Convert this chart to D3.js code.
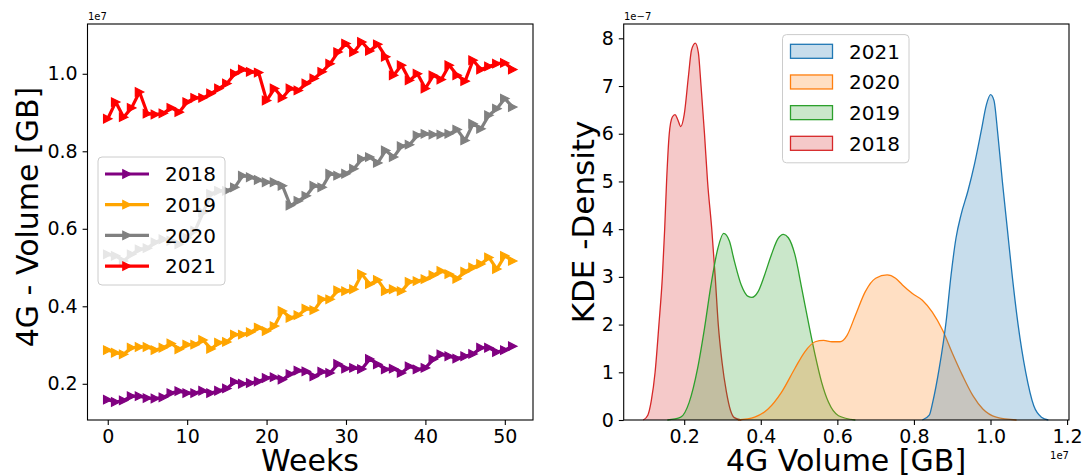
<!DOCTYPE html>
<html><head><meta charset="utf-8">
<script src="https://cdn.jsdelivr.net/npm/d3@7"></script>
<style>
body{margin:0;background:#fff}
svg{display:block}
text{font-family:"DejaVu Sans",sans-serif;fill:#000}
</style>
</head><body>
<svg id="c" width="1086" height="475"></svg>
<script>
// ---------- data (values in 1e7 GB) ----------
const weeks = d3.range(0, 52);
const vol2018 = [0.159,0.153,0.157,0.168,0.168,0.163,0.162,0.165,0.176,0.181,0.176,0.176,0.182,0.176,0.182,0.188,
  0.205,0.200,0.202,0.206,0.215,0.217,0.211,0.225,0.234,0.232,0.219,0.231,0.228,0.251,0.239,0.241,0.238,0.264,
  0.250,0.237,0.239,0.228,0.245,0.237,0.241,0.263,0.276,0.271,0.265,0.271,0.277,0.293,0.293,0.282,0.287,0.297];
const vol2019 = [0.287,0.280,0.276,0.293,0.295,0.295,0.287,0.293,0.304,0.289,0.301,0.301,0.313,0.290,0.306,0.308,
  0.327,0.327,0.333,0.345,0.336,0.349,0.388,0.370,0.377,0.394,0.390,0.418,0.418,0.441,0.439,0.444,0.483,0.457,
  0.468,0.439,0.444,0.439,0.463,0.465,0.470,0.480,0.491,0.483,0.471,0.489,0.500,0.509,0.526,0.496,0.530,0.517];
const vol2020 = [0.534,0.530,0.517,0.534,0.547,0.550,0.565,0.573,0.569,0.560,0.577,0.595,0.642,0.690,0.698,0.698,
  0.707,0.737,0.733,0.726,0.720,0.720,0.711,0.660,0.672,0.685,0.711,0.707,0.742,0.737,0.742,0.755,0.780,0.785,
  0.770,0.802,0.785,0.813,0.817,0.841,0.845,0.843,0.843,0.845,0.856,0.828,0.871,0.858,0.893,0.910,0.936,0.914];
const vol2021 = [0.884,0.927,0.888,0.912,0.953,0.897,0.895,0.898,0.912,0.901,0.927,0.938,0.938,0.949,0.962,0.975,
  1.000,1.011,1.005,1.003,0.931,0.962,0.938,0.962,0.957,0.975,0.988,1.005,1.026,1.056,1.078,1.056,1.082,1.059,
  1.076,1.044,0.996,1.022,0.983,1.000,0.962,0.996,0.985,1.022,0.996,0.981,1.035,1.011,1.019,1.026,1.028,1.011];
const years = ["2018","2019","2020","2021"];
const lineColors = ["#800080","#ffa500","#808080","#ff0000"];
const xTicksL = [0,10,20,30,40,50];
const yTicksL = [0.2,0.4,0.6,0.8,1.0];

// KDE curves: x in 1e7 GB, density in 1e-7
const kde2021X = [0.822,0.840,0.849,0.866,0.884,0.897,0.910,0.923,0.941,0.958,0.976,0.989,1.000,1.009,1.019,1.031,1.044,1.057,1.072,1.092,1.113,1.133,1.151];
const kde2021D = [0.00,0.10,0.37,1.08,2.06,3.04,3.82,4.30,4.80,5.36,6.07,6.60,6.82,6.70,6.00,5.00,4.00,3.00,2.00,1.00,0.30,0.06,0.00];
const kde2020X = [0.340,0.384,0.419,0.454,0.489,0.515,0.542,0.564,0.586,0.607,0.625,0.647,0.673,0.700,0.730,0.752,0.770,0.796,0.822,0.848,0.875,0.901,0.927,0.954,0.980,1.015,1.068];
const kde2020D = [0.00,0.06,0.23,0.58,1.08,1.43,1.64,1.67,1.64,1.64,1.77,2.19,2.69,2.97,3.04,2.97,2.83,2.65,2.51,2.26,1.88,1.39,0.93,0.51,0.23,0.06,0.00];
const kde2019X = [0.156,0.191,0.213,0.235,0.253,0.270,0.288,0.303,0.318,0.331,0.349,0.367,0.377,0.393,0.410,0.428,0.445,0.459,0.472,0.489,0.507,0.524,0.542,0.559,0.577,0.603,0.647];
const kde2019D = [0.00,0.06,0.37,1.08,1.92,2.83,3.60,3.91,3.75,3.33,2.83,2.59,2.57,2.69,3.04,3.47,3.80,3.89,3.82,3.47,2.76,2.06,1.36,0.79,0.37,0.09,0.00];
const kde2018X = [0.093,0.105,0.114,0.124,0.134,0.143,0.149,0.154,0.161,0.169,0.176,0.183,0.191,0.200,0.211,0.219,0.229,0.237,0.244,0.253,0.261,0.272,0.281,0.289,0.299,0.310,0.321,0.331,0.349];
const kde2018D = [0.00,0.10,0.40,1.00,2.00,3.00,4.00,5.00,6.00,6.35,6.40,6.30,6.15,6.40,7.20,7.75,7.90,7.70,7.00,6.00,5.00,4.00,3.00,2.00,1.20,0.60,0.20,0.05,0.00];
const kdeYears = ["2021","2020","2019","2018"];
const kdeColors = ["#1f77b4","#ff7f0e","#2ca02c","#d62728"];
const xTicksR = [0.2,0.4,0.6,0.8,1.0,1.2];
const yTicksR = [0,1,2,3,4,5,6,7,8];

// ---------- drawing ----------
const svg = d3.select("#c");
const TOP = 24, BOT = 420;
const TICK = 4.9, PAD = 4.9, TFS = 19;

function frame(x0, x1) {
  svg.append("rect").attr("x", x0).attr("y", TOP).attr("width", x1 - x0).attr("height", BOT - TOP)
    .attr("fill", "none").attr("stroke", "#000").attr("stroke-width", 1.1);
}
function axes(x, y, xt, yt, xf, yf) {
  const gx = svg.append("g").attr("transform", `translate(0,${BOT})`)
    .call(d3.axisBottom(x).tickValues(xt).tickFormat(xf).tickSize(TICK).tickPadding(PAD));
  const gy = svg.append("g").attr("transform", `translate(${x.range()[0]},0)`)
    .call(d3.axisLeft(y).tickValues(yt).tickFormat(yf).tickSize(TICK).tickPadding(PAD));
  [gx, gy].forEach(g => {
    g.select(".domain").remove();
    g.selectAll("line").attr("stroke", "#000").attr("stroke-width", 1.1);
    g.selectAll("text").attr("font-size", TFS).attr("font-family", '"DejaVu Sans",sans-serif').attr("fill", "#000");
  });
}

// ---- left panel ----
const allVals = vol2018.concat(vol2019, vol2020, vol2021);
const [mn, mx] = d3.extent(allVals);
const padY = (mx - mn) * 0.05;
const xL = d3.scaleLinear().domain([-2.55, 53.55]).range([87.5, 533]);
const yL = d3.scaleLinear().domain([mn - padY, mx + padY]).range([BOT, TOP]);
const seriesL = [vol2018, vol2019, vol2020, vol2021];
const tri = s => `M${s},0L${-s},${-s}L${-s},${s}Z`;

seriesL.forEach((vals, i) => {
  const pts = weeks.map((w, j) => [w, vals[j]]);
  svg.append("path").datum(pts)
    .attr("d", d3.line().x(d => xL(d[0])).y(d => yL(d[1])))
    .attr("fill", "none").attr("stroke", lineColors[i]).attr("stroke-width", 3.2)
    .attr("stroke-linejoin", "round").attr("stroke-linecap", "round");
  svg.append("g").selectAll("path").data(pts).join("path")
    .attr("transform", d => `translate(${xL(d[0])},${yL(d[1])})`)
    .attr("d", tri(4.2)).attr("fill", lineColors[i]).attr("stroke", lineColors[i]).attr("stroke-width", 1.2);
});
frame(87.5, 533);
axes(xL, yL, xTicksL, yTicksL, d3.format("d"), d3.format(".1f"));

// left legend
const lg = svg.append("g");
lg.append("rect").attr("x", 98).attr("y", 157).attr("width", 127).attr("height", 128).attr("rx", 4)
  .attr("fill", "#fff").attr("fill-opacity", 0.8).attr("stroke", "#cccccc").attr("stroke-width", 1);
years.forEach((yr, i) => {
  const cy = 174 + i * 30.7;
  lg.append("line").attr("x1", 105).attr("x2", 149).attr("y1", cy).attr("y2", cy)
    .attr("stroke", lineColors[i]).attr("stroke-width", 3.2);
  lg.append("path").attr("transform", `translate(127,${cy})`).attr("d", tri(4.2))
    .attr("fill", lineColors[i]).attr("stroke", lineColors[i]).attr("stroke-width", 1.2);
  lg.append("text").attr("x", 165).attr("y", cy + 7.3).attr("font-size", 20).text(yr);
});

svg.append("text").attr("x", 88).attr("y", 20).attr("font-size", 10).text("1e7");
svg.append("text").attr("transform", "translate(38,217) rotate(-90)").attr("text-anchor", "middle")
  .attr("font-size", 30).text("4G - Volume [GB]");
svg.append("text").attr("x", 310).attr("y", 471).attr("text-anchor", "middle").attr("font-size", 30).text("Weeks");

// ---- right panel ----
const xR = d3.scaleLinear().domain([0.042, 1.205]).range([623.7, 1069]);
const yR = d3.scaleLinear().domain([0, 8.3]).range([BOT, TOP]);
const kdeX = [kde2021X, kde2020X, kde2019X, kde2018X];
const kdeD = [kde2021D, kde2020D, kde2019D, kde2018D];
const area = d3.area().x(d => xR(d[0])).y0(yR(0)).y1(d => yR(d[1])).curve(d3.curveMonotoneX);
const lineR = d3.line().x(d => xR(d[0])).y(d => yR(d[1])).curve(d3.curveMonotoneX);
[3, 2, 1, 0].forEach(i => {
  const pts = kdeX[i].map((x, j) => [x, kdeD[i][j]]);
  svg.append("path").datum(pts).attr("d", area).attr("fill", kdeColors[i]).attr("fill-opacity", 0.25);
  svg.append("path").datum(pts).attr("d", lineR).attr("fill", "none")
    .attr("stroke", kdeColors[i]).attr("stroke-width", 1.3);
});
frame(623.7, 1069);
axes(xR, yR, xTicksR, yTicksR, d3.format(".1f"), d3.format("d"));

// right legend
const rg = svg.append("g");
rg.append("rect").attr("x", 782.5).attr("y", 34.6).attr("width", 126.5).attr("height", 128.2).attr("rx", 4)
  .attr("fill", "#fff").attr("fill-opacity", 0.8).attr("stroke", "#cccccc").attr("stroke-width", 1);
kdeYears.forEach((yr, i) => {
  const cy = 51.3 + i * 30.67;
  rg.append("rect").attr("x", 790.5).attr("y", cy - 7).attr("width", 42).attr("height", 14)
    .attr("fill", kdeColors[i]).attr("fill-opacity", 0.25).attr("stroke", kdeColors[i]).attr("stroke-width", 1.3);
  rg.append("text").attr("x", 849).attr("y", cy + 7.3).attr("font-size", 20).text(yr);
});

svg.append("text").attr("x", 624).attr("y", 20).attr("font-size", 10).text("1e\u22127");
svg.append("text").attr("x", 1069).attr("y", 459).attr("text-anchor", "end").attr("font-size", 10).text("1e7");
svg.append("text").attr("transform", "translate(594,222) rotate(-90)").attr("text-anchor", "middle")
  .attr("font-size", 31).text("KDE -Density");
svg.append("text").attr("x", 846).attr("y", 471).attr("text-anchor", "middle").attr("font-size", 30).text("4G Volume [GB]");
</script>
</body></html>
